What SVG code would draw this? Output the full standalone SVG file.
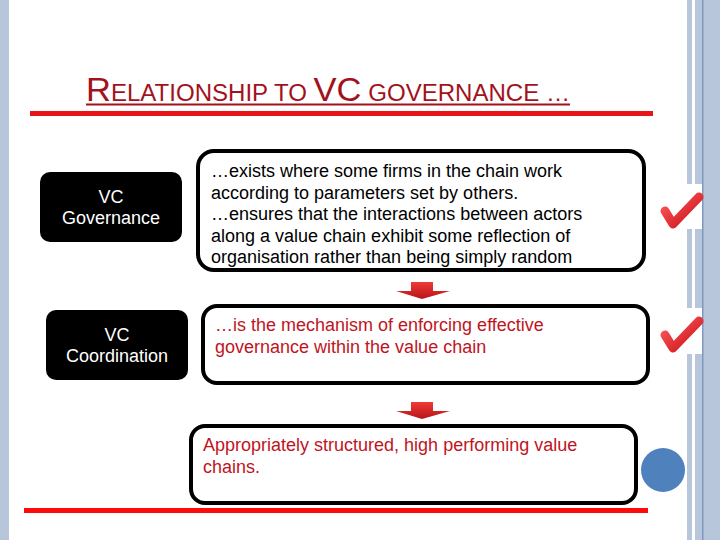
<svg xmlns="http://www.w3.org/2000/svg" width="720" height="540" viewBox="0 0 720 540">
<style>
.title{font-family:"Liberation Sans",Arial,sans-serif;fill:#a3121c}
.lbl{font-family:"Liberation Sans",Arial,sans-serif;font-size:18px;fill:#ffffff;text-anchor:middle}
.body{font-family:"Liberation Sans",Arial,sans-serif;font-size:18px;fill:#000000}
.red{fill:#c0141e}
.blk{fill:#000000}
.box{fill:#ffffff;stroke:#000000;stroke-width:4}
.arrow{fill:url(#ag)}
.check{fill:none;stroke:url(#cg);stroke-width:9;stroke-linecap:round;stroke-linejoin:round}
.stripe{fill:#b8c6dc}
</style>
<defs>
<linearGradient id="ag" x1="0" y1="0" x2="0" y2="1">
<stop offset="0" stop-color="#f03a36"/>
<stop offset="1" stop-color="#b8141a"/>
</linearGradient>
<linearGradient id="cg" x1="0" y1="0" x2="1" y2="1">
<stop offset="0" stop-color="#ff5a5a"/>
<stop offset="1" stop-color="#c8101a"/>
</linearGradient>
</defs>
<rect width="720" height="540" fill="#ffffff"/>
<g id="borders">
<rect class="stripe" x="0" y="0" width="9" height="540"/>
<rect class="stripe" x="687" y="0" width="5" height="540"/>
<rect class="stripe" x="695" y="0" width="25" height="540"/>
<rect x="702" y="0" width="1.5" height="540" fill="#7f97c0"/>
</g>
<g id="title">
<text class="title" x="86" y="101" textLength="484" lengthAdjust="spacingAndGlyphs"><tspan font-size="33">R</tspan><tspan font-size="23">ELATIONSHIP TO </tspan><tspan font-size="33">VC</tspan><tspan font-size="23"> GOVERNANCE …</tspan></text>
<line x1="86" y1="104.5" x2="570" y2="104.5" stroke="#a3121c" stroke-width="2"/>
<line x1="30" y1="113.5" x2="653" y2="113.5" stroke="#e8141a" stroke-width="5"/>
</g>
<g id="vc-governance">
<rect x="40" y="172" width="142" height="70" rx="10" fill="#000000"/>
<text class="lbl" x="111" y="203">VC</text>
<text class="lbl" x="111" y="224">Governance</text>
</g>
<g id="vc-coordination">
<rect x="46" y="310" width="142" height="70" rx="10" fill="#000000"/>
<text class="lbl" x="117" y="341">VC</text>
<text class="lbl" x="117" y="362">Coordination</text>
</g>
<g id="box-governance">
<rect class="box" x="198" y="151" width="446" height="119" rx="16"/>
<text class="body blk" x="211" y="177">…exists where some firms in the chain work</text>
<text class="body blk" x="211" y="199">according to parameters set by others.</text>
<text class="body blk" x="211" y="220">…ensures that the interactions between actors</text>
<text class="body blk" x="211" y="242">along a value chain exhibit some reflection of</text>
<text class="body blk" x="211" y="263">organisation rather than being simply random</text>
</g>
<g id="box-coordination">
<rect class="box" x="203" y="306" width="445" height="77" rx="14"/>
<text class="body red" x="215" y="331">…is the mechanism of enforcing effective</text>
<text class="body red" x="215" y="353">governance within the value chain</text>
</g>
<g id="box-outcome">
<rect class="box" x="191" y="426" width="445" height="77" rx="14"/>
<text class="body red" x="203" y="451">Appropriately structured, high performing value</text>
<text class="body red" x="203" y="473">chains.</text>
</g>
<g id="connectors">
<path class="arrow" d="M411 282 H433 V291 H450 L422 299 L396 291 H411 Z"/>
<path class="arrow" d="M411 402 H433 V411 H450 L422 419 L396 411 H411 Z"/>
</g>
<g id="checks">
<rect x="655" y="184" width="47" height="45" fill="#ffffff"/>
<path class="check" d="M665 211 L673 224 L699 197"/>
<rect x="655" y="308" width="47" height="46" fill="#ffffff"/>
<path class="check" d="M665 335 L673 348 L699 321"/>
</g>
<g id="bottom">
<line x1="24" y1="510.5" x2="648" y2="510.5" stroke="#ff0a0a" stroke-width="5"/>
<circle cx="663" cy="470" r="22" fill="#4f81bd"/>
</g>
</svg>
